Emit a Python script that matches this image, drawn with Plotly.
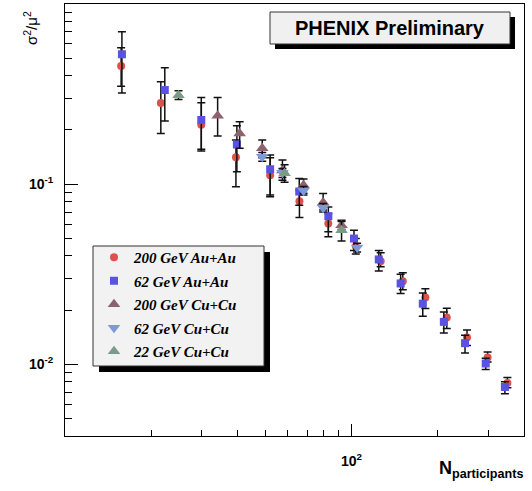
import plotly.graph_objects as go

# ---------------- data ----------------
npart_auau200 = [15.7, 21.6, 29.9, 39.5, 52.0, 65.8, 83.0, 103.5, 126.4, 151, 181, 215, 253, 298.5, 350]
ratio_auau200 = [0.453, 0.282, 0.214, 0.141, 0.112, 0.0804, 0.0605, 0.0452, 0.0373, 0.0289, 0.0235, 0.0182, 0.0141, 0.0109, 0.00787]
hi_auau200 = [0.572, 0.370, 0.283, 0.176, 0.140, 0.0929, 0.0688, 0.050, 0.0416, 0.0322, 0.0263, 0.0205, 0.0155, 0.0117, 0.00844]
lo_auau200 = [0.350, 0.191, 0.156, 0.0966, 0.087, 0.0653, 0.051, 0.041, 0.0348, 0.0259, 0.0204, 0.0158, 0.0127, 0.0103, 0.0074]

npart_auau62 = [15.8, 22.3, 29.9, 39.8, 52.0, 65.7, 83.0, 102, 124.5, 148.4, 177.3, 210, 249, 294, 343]
ratio_auau62 = [0.526, 0.333, 0.227, 0.166, 0.121, 0.091, 0.0664, 0.0499, 0.0382, 0.0281, 0.0217, 0.0172, 0.0131, 0.0101, 0.00748]
hi_auau62 = [0.702, 0.443, 0.303, 0.211, 0.145, 0.1076, 0.0746, 0.0555, 0.0428, 0.0316, 0.0249, 0.0195, 0.0145, 0.0108, 0.0080]
lo_auau62 = [0.321, 0.224, 0.153, 0.117, 0.085, 0.0763, 0.0545, 0.0428, 0.033, 0.0247, 0.0185, 0.0149, 0.01155, 0.00935, 0.00687]

npart_cucu200 = [34.1, 40.7, 48.8, 57.4, 68, 79.6, 92.3]
ratio_cucu200 = [0.240, 0.191, 0.158, 0.119, 0.0987, 0.0791, 0.0592]
hi_cucu200 = [0.303, 0.222, 0.176, 0.136, 0.1067, 0.0888, 0.0630]
lo_cucu200 = [0.185, 0.158, 0.140, 0.105, 0.089, 0.0718, 0.0560]

npart_cucu62 = [48.8, 57.4, 68, 79.6, 104.6]
ratio_cucu62 = [0.142, 0.1156, 0.0918, 0.0739, 0.0445]
hi_cucu62 = [0.150, 0.122, 0.097, 0.078, 0.047]
lo_cucu62 = [0.134, 0.109, 0.087, 0.070, 0.042]

npart_cucu22 = [24.9, 58.4, 92.3]
ratio_cucu22 = [0.312, 0.115, 0.0555]
hi_cucu22 = [0.330, 0.128, 0.062]
lo_cucu22 = [0.295, 0.1024, 0.0484]

labels = ["200 GeV Au+Au", "62 GeV Au+Au", "200 GeV Cu+Cu", "62 GeV Cu+Cu", "22 GeV Cu+Cu"]
colors = ["#d9534c", "#5a52e0", "#8e616e", "#7e99d8", "#7b9b89"]
symbols = ["circle", "square", "triangle-up", "triangle-down", "triangle-up"]
sizes = [8, 8, 11, 11, 11]

y_tickvals = [0.01, 0.1, 1]
y_ticktext = ["10<sup>-2</sup>", "10<sup>-1</sup>", "1"]
x_tickvals = [100]
x_ticktext = ["10<sup>2</sup>"]

# ---------------- figure ----------------
W, H = 532, 491
ML, MR, MT, MB = 65, 8, 4, 55
PW, PH = W - ML - MR, H - MT - MB


def px(xp):
    return (xp - ML) / PW


def py(yp):
    return (H - MB - yp) / PH


series = [
    (npart_auau200, ratio_auau200, hi_auau200, lo_auau200),
    (npart_auau62, ratio_auau62, hi_auau62, lo_auau62),
    (npart_cucu200, ratio_cucu200, hi_cucu200, lo_cucu200),
    (npart_cucu62, ratio_cucu62, hi_cucu62, lo_cucu62),
    (npart_cucu22, ratio_cucu22, hi_cucu22, lo_cucu22),
]

fig = go.Figure()
for i, (xs, ys, his, los) in enumerate(series):
    fig.add_trace(go.Scatter(
        x=xs, y=ys, mode="markers", name=labels[i],
        marker=dict(symbol=symbols[i], size=sizes[i], color=colors[i], line=dict(width=0)),
        error_y=dict(type="data", symmetric=False,
                     array=[h - v for h, v in zip(his, ys)],
                     arrayminus=[v - l for l, v in zip(los, ys)],
                     color="#111111", thickness=1.5, width=4),
        legendgroup=str(i),
    ))

# shadows & boxes
shapes = [
    # legend shadow + box
    dict(type="rect", xref="paper", yref="paper", x0=px(99), x1=px(270), y0=py(372), y1=py(252),
         fillcolor="black", line=dict(width=0), layer="above"),
    dict(type="rect", xref="paper", yref="paper", x0=px(93), x1=px(264), y0=py(366), y1=py(246),
         fillcolor="#f2f2f2", line=dict(width=1, color="#333333"), layer="above"),
    # title box shadow + box
    dict(type="rect", xref="paper", yref="paper", x0=px(275), x1=px(515), y0=py(49), y1=py(17),
         fillcolor="black", line=dict(width=0), layer="above"),
    dict(type="rect", xref="paper", yref="paper", x0=px(270), x1=px(510), y0=py(44), y1=py(12),
         fillcolor="#f0f0f0", line=dict(width=1, color="#333333"), layer="above"),
]

annotations = [
    dict(text="<b>PHENIX Preliminary</b>", xref="paper", yref="paper", x=px(390), y=py(28),
         xanchor="center", yanchor="middle", showarrow=False,
         font=dict(family="Liberation Sans", size=20, color="black")),
    dict(text="σ<sup>2</sup>/μ<sup>2</sup>", xref="paper", yref="paper", x=px(30), y=py(28),
         xanchor="center", yanchor="middle", textangle=-90, showarrow=False,
         font=dict(family="Liberation Sans", size=15, color="black")),
    dict(text="<b>N<sub>participants</sub></b>", xref="paper", yref="paper", x=px(525), y=py(456),
         xanchor="right", yanchor="top", showarrow=False,
         font=dict(family="Liberation Sans", size=18, color="black")),
]

fig.update_layout(
    width=W, height=H,
    margin=dict(l=ML, r=MR, t=MT, b=MB, autoexpand=False),
    paper_bgcolor="white", plot_bgcolor="white",
    showlegend=True,
    legend=dict(x=px(94), y=py(241), xanchor="left", yanchor="top",
                bgcolor="rgba(0,0,0,0)", borderwidth=0,
                font=dict(family="Liberation Serif", size=15, color="black", weight="bold", style="italic"),
                tracegroupgap=1, traceorder="grouped"),
    shapes=shapes, annotations=annotations,
    xaxis=dict(type="log", range=[1.0, 2.602], showgrid=False, zeroline=False, automargin=False,
               showline=True, linecolor="black", linewidth=1, mirror=True,
               ticks="inside", ticklen=12, tickcolor="black", tickwidth=1,
               tickmode="array", tickvals=x_tickvals, ticktext=x_ticktext,
               tickfont=dict(family="Liberation Sans", size=14, color="black", weight="bold"),
               ticklabelstandoff=12,
               minor=dict(ticks="inside", ticklen=6, tickcolor="black", tickwidth=1, showgrid=False,
                          tickmode="array", tickvals=[20, 30, 40, 50, 60, 70, 80, 90, 200, 300])),
    yaxis=dict(type="log", range=[-2.398, 0.0], showgrid=False, zeroline=False, automargin=False,
               showline=True, linecolor="black", linewidth=1, mirror=True,
               ticks="inside", ticklen=13, tickcolor="black", tickwidth=1,
               tickmode="array", tickvals=y_tickvals, ticktext=y_ticktext,
               tickfont=dict(family="Liberation Sans", size=14, color="black", weight="bold"),
               ticklabelstandoff=8,
               minor=dict(ticks="inside", ticklen=7, tickcolor="black", tickwidth=1, showgrid=False,
                          tickmode="array",
                          tickvals=[0.005, 0.006, 0.007, 0.008, 0.009,
                                    0.02, 0.03, 0.04, 0.05, 0.06, 0.07, 0.08, 0.09,
                                    0.2, 0.3, 0.4, 0.5, 0.6, 0.7, 0.8, 0.9])),
)

fig.write_html("out.html", config={"displayModeBar": False},
               post_script="document.body.style.margin='0';")
